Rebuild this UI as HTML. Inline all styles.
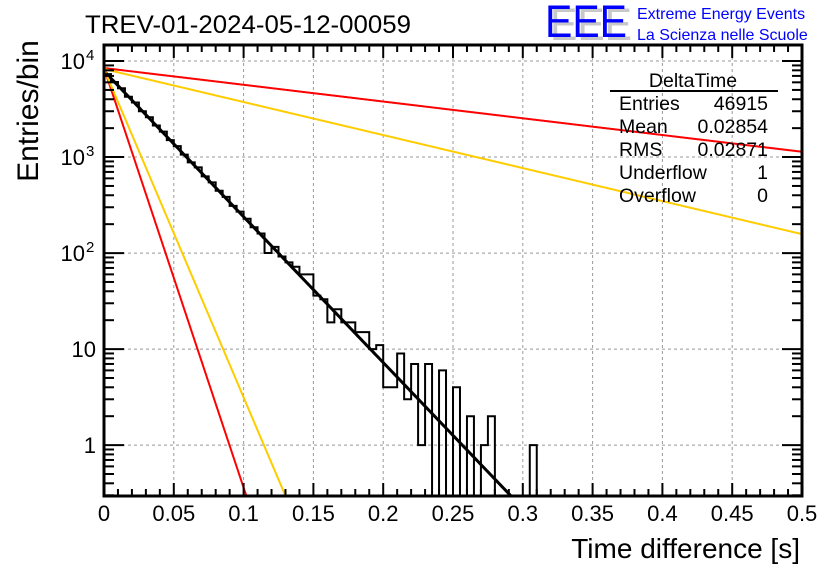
<!DOCTYPE html>
<html><head><meta charset="utf-8"><style>
html,body{margin:0;padding:0;background:#fff;}
svg{display:block;font-family:"Liberation Sans",sans-serif;}
</style></head><body>
<svg id="chart" width="836" height="572" viewBox="0 0 836 572">
<rect x="0" y="0" width="836" height="572" fill="#fff"/>
<g id="grid"></g>
<g id="curves"></g>
<g id="hist"></g>
<g id="axes"></g>
<text x="85" y="33" font-size="25" textLength="326" lengthAdjust="spacingAndGlyphs">TREV-01-2024-05-12-00059</text>
<text x="38" y="111" font-size="30" text-anchor="middle" transform="rotate(-90 38 111)">Entries/bin</text>
<text x="800" y="558" font-size="28" text-anchor="end">Time difference [s]</text>
<g>
<text x="550" y="40" font-size="45" fill="#c8c8c8" textLength="82" lengthAdjust="spacingAndGlyphs">EEE</text>
<text x="545" y="37" font-size="45" fill="#0000ff" textLength="82" lengthAdjust="spacingAndGlyphs">EEE</text>
<text x="637" y="19" font-size="16" fill="#0000ff">Extreme Energy Events</text>
<text x="637" y="40" font-size="16" fill="#0000ff">La Scienza nelle Scuole</text>
</g>
<g font-size="19.5">
<text x="693" y="87" text-anchor="middle">DeltaTime</text>
<line x1="610" y1="91" x2="778" y2="91" stroke="#000" stroke-width="2"/>
<text x="619" y="110">Entries</text><text x="768" y="110" text-anchor="end">46915</text>
<text x="619" y="133">Mean</text><text x="768" y="133" text-anchor="end">0.02854</text>
<text x="619" y="156">RMS</text><text x="768" y="156" text-anchor="end">0.02871</text>
<text x="619" y="179">Underflow</text><text x="768" y="179" text-anchor="end">1</text>
<text x="619" y="202">Overflow</text><text x="768" y="202" text-anchor="end">0</text>
</g>
</svg>
<script>
const binWidth = 0.005;
const binCounts = [7300,6050,5200,4250,3700,3000,2600,2130,1840,1500,1300,1060,880,780,630,545,445,385,310,270,228,186,160,100,116,92,80,72,60,60,36,33,19,26,19,19,15,15,10,11,4,4,9,3,7,1,7,0,6,0,4,0,2,0,1,2,0,0,0,0,0,1];
const xTicks = [0,0.05,0.1,0.15,0.2,0.25,0.3,0.35,0.4,0.45,0.5];
const xTickLabels = ["0","0.05","0.1","0.15","0.2","0.25","0.3","0.35","0.4","0.45","0.5"];
const yDecades = [0,1,2,3,4];
const yTickLabels = ["1","10","10","10","10"];
const yTickExps = ["","","2","3","4"];
// fit curves: log10 amplitude and decades per second
const fitNames = ["fit-black","red-shallow","yellow-shallow","red-steep","yellow-steep"];
const fitLogAmp = [3.896,3.927,3.917,3.927,3.917];
const fitSlope = [15.18,1.744,3.44,43.7,34.2];
const fitColors = ["#000","#ff0000","#ffcc00","#ff0000","#ffcc00"];

const L=104,R=802,T=45,B=496;
const xmin=0,xmax=0.5,ymin=Math.log10(0.295),ymax=4.167;
const NS="http://www.w3.org/2000/svg";
function X(v){return L+(v-xmin)/(xmax-xmin)*(R-L);}
function Y(v){const lv=v>0?Math.log10(v):ymin;return Math.min(B,Math.max(T,B-(lv-ymin)/(ymax-ymin)*(B-T)));}
function mk(tag,parent,attrs){const e=document.createElementNS(NS,tag);for(const k in attrs)e.setAttribute(k,attrs[k]);parent.appendChild(e);return e;}
const grid=document.getElementById('grid'),axes=document.getElementById('axes'),curves=document.getElementById('curves'),hist=document.getElementById('hist');
xTicks.forEach((t,i)=>{if(i===0||i===xTicks.length-1)return;const g=mk('line',grid,{x1:X(t),x2:X(t),y1:T,y2:B,stroke:'#999','stroke-dasharray':'3,3','stroke-width':1});

});
yDecades.forEach(d=>{const g=mk('line',grid,{x1:L,x2:R,y1:Y(Math.pow(10,d)),y2:Y(Math.pow(10,d)),stroke:'#999','stroke-dasharray':'3,3','stroke-width':1});

});
fitNames.forEach((n,i)=>{let pts=[];for(let k=0;k<=500;k++){const x=k/1000;const lv=fitLogAmp[i]-fitSlope[i]*x;if(lv<ymin){const xe=(fitLogAmp[i]-ymin)/fitSlope[i];pts.push(X(xe)+','+B);break;}pts.push(X(x).toFixed(2)+','+Y(Math.pow(10,lv)).toFixed(2));}
const p=mk('polyline',curves,{points:pts.join(' '),fill:'none',stroke:fitColors[i],'stroke-width':i===0?3:2});

});
let d='M'+X(0)+','+B;
binCounts.forEach((c,i)=>{const y=Y(c);d+=' L'+X(i*binWidth).toFixed(2)+','+y.toFixed(2)+' L'+X((i+1)*binWidth).toFixed(2)+','+y.toFixed(2);});
d+=' L'+X(binCounts.length*binWidth)+','+B;
const hp=mk('path',hist,{d:d,fill:'none',stroke:'#000','stroke-width':2});


const fr=mk('rect',axes,{x:L,y:T,width:R-L,height:B-T,fill:'none',stroke:'#000','stroke-width':3});


for(let k=0;k<=50;k++){const v=k*0.01;const major=Math.abs(v/0.05-Math.round(v/0.05))<1e-6;const len=major?13:7;const x=X(v);
mk('line',axes,{x1:x,x2:x,y1:B,y2:B-len,stroke:'#000','stroke-width':2});mk('line',axes,{x1:x,x2:x,y1:T,y2:T+len,stroke:'#000','stroke-width':2});}
xTicks.forEach((t,i)=>{const tx=mk('text',axes,{x:X(t),y:B+25,'font-size':22,'text-anchor':'middle'});tx.textContent=xTickLabels[i];

});
for(let dd=-1;dd<=4;dd++){for(let m=1;m<=9;m++){const v=m*Math.pow(10,dd);const lv=Math.log10(v);if(lv<ymin||lv>ymax)continue;const len=m===1?20:10;const y=Y(v);
mk('line',axes,{x1:L,x2:L+len,y1:y,y2:y,stroke:'#000','stroke-width':2});mk('line',axes,{x1:R,x2:R-len,y1:y,y2:y,stroke:'#000','stroke-width':2});}}
yDecades.forEach((dv,i)=>{const y=Y(Math.pow(10,dv));const tx=mk('text',axes,{x:yTickExps[i]?85:96,y:y+8,'font-size':22,'text-anchor':'end'});tx.textContent=yTickLabels[i];


if(yTickExps[i]){const sp=mk('text',axes,{x:86,y:y-1,'font-size':15});sp.textContent=yTickExps[i];

}});
</script>
</body></html>
